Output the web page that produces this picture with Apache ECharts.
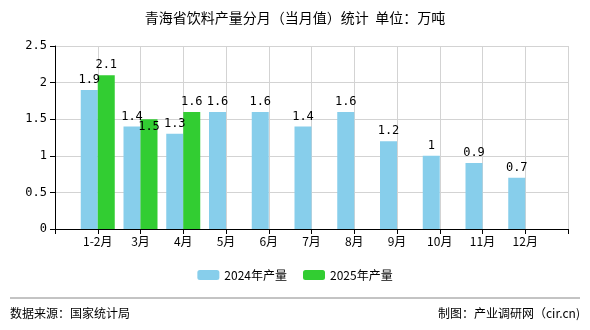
<!DOCTYPE html>
<html><head><meta charset="utf-8">
<script src="https://cdn.jsdelivr.net/npm/echarts@6/dist/echarts.min.js"></script>
<style>html,body{margin:0;padding:0;background:#fff}#c{width:590px;height:330px}</style>
</head><body><div id="c"></div>
<script>
var categories = ["", "1-2月", "3月", "4月", "5月", "6月", "7月", "8月", "9月", "10月", "11月", "12月", ""];
var values2024 = [null, 1.9, 1.4, 1.3, 1.6, 1.6, 1.4, 1.6, 1.2, 1, 0.9, 0.7, null];
var values2025 = [null, 2.1, 1.5, 1.6, null, null, null, null, null, null, null, null, null];
var yTicks = [0, 0.5, 1, 1.5, 2, 2.5];
var seriesNames = ["2024年产量", "2025年产量"];

var font = "'Noto Sans CJK SC', sans-serif";
var chart = echarts.init(document.getElementById('c'));
var lbl = {show: true, position: 'top', color: '#000', fontSize: 12, fontFamily: 'DejaVu Sans Mono', distance: 4};
var d2025 = values2025.map(function (v, i) {
  if (i === 2) return {value: v, label: {position: 'insideTop', distance: 2}};
  return v;
});
chart.setOption({
  animation: false,
  title: {text: '青海省饮料产量分月（当月值）统计  单位：万吨', left: 'center', top: 6,
    textStyle: {fontSize: 14, fontWeight: 'normal', color: '#000', fontFamily: font}},
  legend: {data: seriesNames, bottom: 44, itemWidth: 22, itemHeight: 10, itemGap: 16,
    textStyle: {fontSize: 12, color: '#000', fontFamily: font}},
  grid: {left: 55, right: 22, top: 46, bottom: 101},
  xAxis: {type: 'category', data: categories, boundaryGap: false,
    axisLine: {lineStyle: {color: '#000'}}, axisTick: {show: true, length: 5, lineStyle: {color: '#000'}},
    axisLabel: {color: '#000', fontSize: 12, fontFamily: font, interval: 0, margin: 6},
    splitLine: {show: true, lineStyle: {color: '#d3d3d3'}}},
  yAxis: {type: 'value', min: 0, max: 2.5, interval: 0.5,
    axisLine: {show: true, lineStyle: {color: '#000'}}, axisTick: {show: true, length: 5, lineStyle: {color: '#000'}},
    axisLabel: {color: '#000', fontSize: 12, fontFamily: 'DejaVu Sans Mono', margin: 8},
    splitLine: {show: true, lineStyle: {color: '#d3d3d3'}}},
  series: [
    {name: seriesNames[0], type: 'bar', data: values2024, barWidth: 17, barGap: '0%',
      itemStyle: {color: '#87CEEB'}, label: lbl},
    {name: seriesNames[1], type: 'bar', data: d2025, barWidth: 17, barGap: '0%',
      itemStyle: {color: '#32CD32'}, label: lbl}
  ],
  graphic: [
    {type: 'line', shape: {x1: 10, y1: 298, x2: 580, y2: 298}, style: {stroke: '#888', lineWidth: 1}},
    {type: 'text', left: 10, top: 307, style: {text: '数据来源：国家统计局', fontSize: 12, fill: '#000', fontFamily: font}},
    {type: 'text', right: 10, top: 307, style: {text: '制图：产业调研网（cir.cn)', fontSize: 12, fill: '#000', fontFamily: font}}
  ]
});
</script></body></html>
